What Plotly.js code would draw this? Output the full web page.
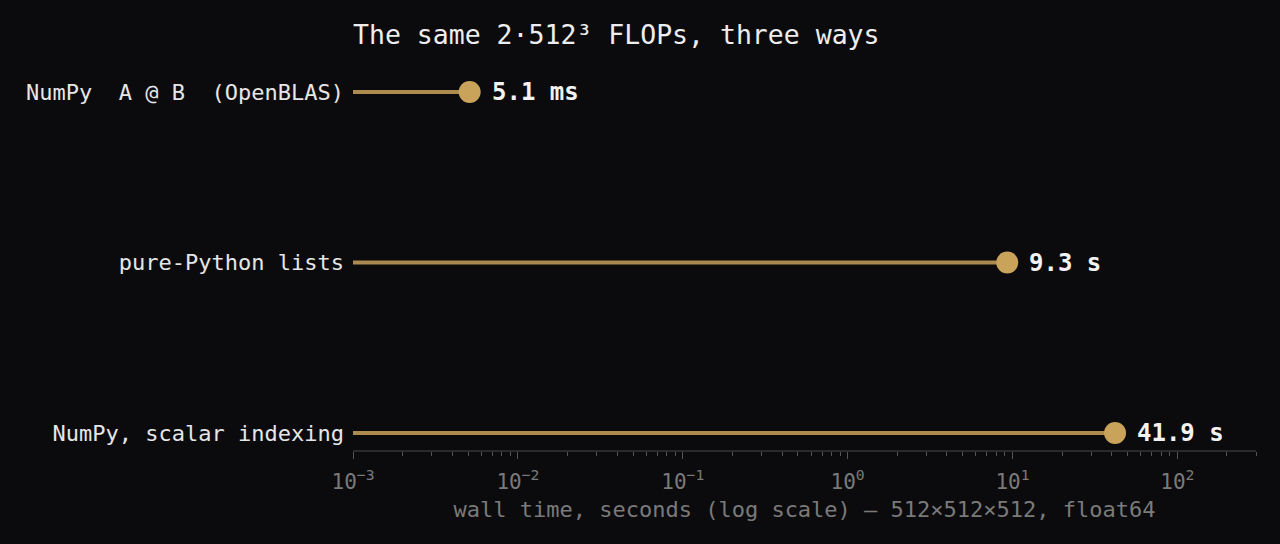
<!DOCTYPE html>
<html>
<head>
<meta charset="utf-8">
<script src="https://cdn.plot.ly/plotly-3.0.1.min.js"></script>
<style>
  html, body { margin: 0; padding: 0; background: #0b0b0d; }
  #chart { width: 1280px; height: 544px; }
</style>
</head>
<body>
<div id="chart"></div>
<script>
// bottom to top
let methods = ['NumPy, scalar indexing', 'pure-Python lists', 'NumPy  A @ B  (OpenBLAS)'];
let seconds = [41.9, 9.3, 0.0051];
let timeLabels = ['41.9 s', '9.3 s', '5.1 ms'];
let xStart = 0.001;
let tickExps = [-3, -2, -1, 0, 1, 2];

let gold = '#c9a35a';
let stem = '#ad8b4f';
let mono = 'DejaVu Sans Mono, monospace';

let data = [];
// one stem per method, from the left edge of the axis to the timing
for (let i = 0; i < methods.length; i++) {
  data.push({
    x: [xStart, seconds[i]],
    y: [methods[i], methods[i]],
    mode: 'lines',
    line: {color: stem, width: 4},
    hoverinfo: 'skip',
    showlegend: false
  });
}
data.push({
  x: seconds,
  y: methods,
  mode: 'markers',
  marker: {color: gold, size: 22},
  cliponaxis: false,
  showlegend: false
});

let notes = [];
for (let i = 0; i < methods.length; i++) {
  notes.push({
    x: Math.log10(seconds[i]),
    y: methods[i],
    text: timeLabels[i],
    showarrow: false,
    xanchor: 'left',
    xshift: 20,
    font: {family: mono, size: 24, color: '#f2f2f2', weight: 'bold'}
  });
}

let layout = {
  width: 1280,
  height: 544,
  paper_bgcolor: '#0b0b0d',
  plot_bgcolor: '#0b0b0d',
  margin: {l: 353, r: 24, t: 58, b: 94},
  font: {family: mono, color: '#e6e6e6'},
  title: {
    text: 'The same 2·512³ FLOPs, three ways',
    font: {family: mono, size: 26.5, color: '#eeeeee'},
    x: 0, xref: 'paper', xanchor: 'left',
    y: 1 - 35 / 544, yref: 'container', yanchor: 'middle'
  },
  annotations: notes,
  xaxis: {
    type: 'log',
    range: [-3, Math.log10(300)],
    tickvals: tickExps.map(p => Math.pow(10, p)),
    ticktext: tickExps.map(p => '10<sup>' + (p < 0 ? '−' : '') + Math.abs(p) + '</sup>'),
    showgrid: false,
    zeroline: false,
    showline: true,
    linecolor: '#2a2a2c',
    linewidth: 2,
    ticks: 'outside',
    ticklen: 7,
    tickwidth: 1,
    tickcolor: '#555',
    ticklabelstandoff: 5,
    tickfont: {family: mono, size: 21, color: '#7a7a7a'},
    minor: {ticks: 'outside', ticklen: 4, tickcolor: '#555', dtick: 'D1', showgrid: false},
    title: {
      text: 'wall time, seconds (log scale) — 512×512×512, float64',
      font: {family: mono, size: 22, color: '#7a7a7a'},
      standoff: 8
    }
  },
  yaxis: {
    type: 'category',
    categoryarray: methods,
    range: [-0.1, 2.2],
    showgrid: false,
    zeroline: false,
    showline: false,
    ticks: '',
    ticklabelstandoff: 8,
    tickfont: {family: mono, size: 22, color: '#e6e6e6'}
  }
};

Plotly.newPlot('chart', data, layout, {displayModeBar: false, staticPlot: true});
</script>
</body>
</html>
